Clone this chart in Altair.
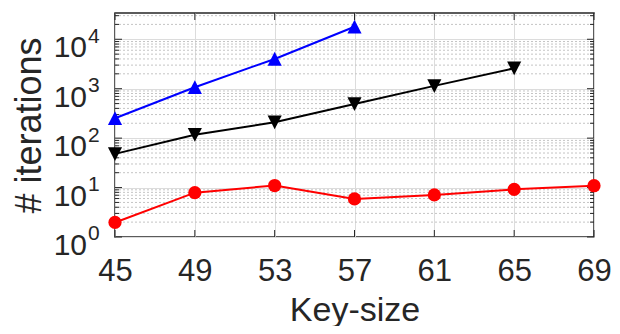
import altair as alt
import pandas as pd

# ---- data ----
key_sizes = [45, 49, 53, 57, 61, 65, 69]
blue_vals = [253, 1070, 4000, 17900]
black_vals = [48, 117, 210, 490, 1140, 2590]
red_vals = [1.97, 7.9, 11.0, 5.9, 7.1, 9.2, 10.9]

x_ticks = [45, 49, 53, 57, 61, 65, 69]
decades = [1, 10, 100, 1000, 10000]
exponents = ["0", "1", "2", "3", "4"]
minor_mult = [2, 3, 4, 5, 6, 7, 8, 9]
y_domain = [1, 34000]
x_domain = [45, 69]

W, H = 479, 224
FONT = "Liberation Sans"
DARK = "#262626"

rows = []
for k, v in zip(key_sizes, blue_vals):
    rows.append({"x": k, "y": v, "s": "blue"})
for k, v in zip(key_sizes, black_vals):
    rows.append({"x": k, "y": v, "s": "black"})
for k, v in zip(key_sizes, red_vals):
    rows.append({"x": k, "y": v, "s": "red"})
df = pd.DataFrame(rows)

minor_vals = [m * d for d in decades for m in minor_mult if m * d <= y_domain[1]]
df_minor = pd.DataFrame({"y": minor_vals})
df_dec = pd.DataFrame({"y": decades, "e": exponents})
df_xt = pd.DataFrame({"x": x_ticks})

xs = alt.Scale(domain=x_domain, nice=False, zero=False)
ys = alt.Scale(type="log", domain=y_domain, nice=False)

x_axis = alt.Axis(
    values=x_ticks, format="d", labelFontSize=31, labelFont=FONT, labelColor=DARK,
    labelPadding=19, ticks=False, tickSize=0, domain=False, grid=True,
    gridColor="#dcdcdc", gridWidth=1, labelFlush=False,
    title="Key-size", titleFontSize=34, titleFont=FONT, titleFontWeight="normal",
    titleColor=DARK, titlePadding=7)
y_axis = alt.Axis(
    values=decades, labels=False, ticks=False, tickSize=0, domain=False, grid=True,
    gridColor="#dcdcdc", gridWidth=1,
    title="# iterations", titleFontSize=36, titleFont=FONT, titleFontWeight="normal",
    titleColor=DARK, titlePadding=67)

def X():
    return alt.X("x:Q", scale=xs, axis=x_axis)

def Y():
    return alt.Y("y:Q", scale=ys, axis=y_axis)

# minor dotted grid
minor_grid = alt.Chart(df_minor).mark_rule(
    color="#c4c4c4", strokeDash=[2, 2], strokeWidth=1
).encode(y=Y(), x=alt.value(0), x2=alt.value(W))

def yticks(data, x0, x1):
    return alt.Chart(data).mark_rule(color=DARK, strokeWidth=1).encode(
        y=Y(), x=alt.value(x0), x2=alt.value(x1))

def xticks(y0, y1):
    return alt.Chart(df_xt).mark_rule(color=DARK, strokeWidth=1).encode(
        x=X(), y=alt.value(y0), y2=alt.value(y1))

tick_layers = [
    yticks(df_dec, 0, 7), yticks(df_minor, 0, 4),
    yticks(df_dec, W - 7, W), yticks(df_minor, W - 4, W),
    xticks(H - 7, H), xticks(0, 7),
]

color_scale = alt.Scale(domain=["blue", "black", "red"],
                        range=["#0000ff", "#000000", "#ff0000"])
shape_scale = alt.Scale(domain=["blue", "black"],
                        range=["M0,-1L1,0.95L-1,0.95Z", "M0,1L1,-0.95L-1,-0.95Z"])

lines = alt.Chart(df).mark_line(strokeWidth=2, clip=False).encode(
    x=X(), y=Y(), color=alt.Color("s:N", scale=color_scale, legend=None),
    detail="s:N")
tri = alt.Chart(df[df.s != "red"]).mark_point(filled=True, opacity=1, size=200, clip=False).encode(
    x=X(), y=Y(),
    color=alt.Color("s:N", scale=color_scale, legend=None),
    shape=alt.Shape("s:N", scale=shape_scale, legend=None))
circ = alt.Chart(df[df.s == "red"]).mark_circle(opacity=1, size=175, clip=False, color="#ff0000").encode(
    x=X(), y=Y())

lab10 = alt.Chart(df_dec).mark_text(
    align="right", baseline="alphabetic", dy=18, fontSize=30, font=FONT, color=DARK
).encode(y=Y(), x=alt.value(-28), text=alt.value("10"))
labexp = alt.Chart(df_dec).mark_text(
    align="left", baseline="alphabetic", dy=3.4, fontSize=21, font=FONT, color=DARK
).encode(y=Y(), x=alt.value(-27), text="e:N")

chart = alt.layer(
    minor_grid, *tick_layers, lines, tri, circ, lab10, labexp
).properties(
    width=W, height=H,
    autosize=alt.AutoSizeParams(type="none"),
    padding={"left": 107, "top": 5, "right": 18, "bottom": 89},
    background="white",
).configure_view(stroke=DARK, strokeWidth=1.5)

chart.save("out.html", embed_options={"renderer": "svg", "actions": False})
